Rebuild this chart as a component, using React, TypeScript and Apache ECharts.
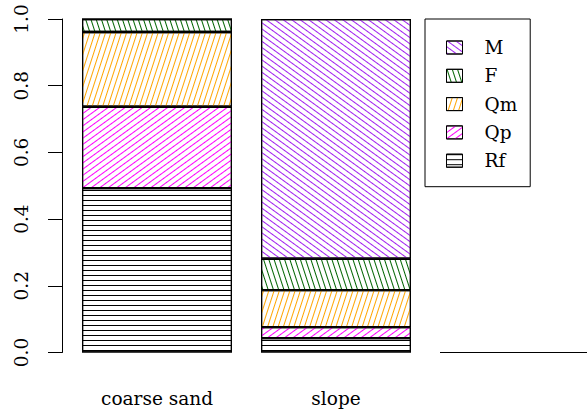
import React, { useEffect, useRef } from "react";
import * as echarts from "echarts";

const categories = ["coarse sand", "slope", ""];
const seriesNames = ["Rf", "Qp", "Qm", "F", "M"];
const Rf = [0.493, 0.043, 0];
const Qp = [0.244, 0.033, 0];
const Qm = [0.224, 0.111, 0];
const F = [0.039, 0.094, 0];
const M = [0, 0.719, 0];
const seriesValues = [Rf, Qp, Qm, F, M];
const seriesColors = ["#000000", "#FF00FF", "#FFA500", "#006400", "#A020F0"];
const hatchAngles = [0, 36, 72, 108, 144];
const legendOrder = ["M", "F", "Qm", "Qp", "Rf"];
const yTicks = [0, 0.2, 0.4, 0.6, 0.8, 1.0];

const FONT = "DejaVu Serif";
const FS = 18.5;

export default function App() {
  const ref = useRef<HTMLDivElement>(null);
  useEffect(() => {
    if (!ref.current) return;
    const chart = echarts.init(ref.current, undefined, { renderer: "svg" });
    const series = seriesNames.map((name, i) => ({
      name,
      type: "bar",
      stack: "total",
      barWidth: 150,
      data: seriesValues[i],
      itemStyle: {
        color: "#ffffff",
        borderColor: "#000000",
        borderWidth: 1.2,
        decal: {
          symbol: "rect",
          symbolSize: 1,
          symbolKeepAspect: false,
          color: seriesColors[i],
          dashArrayX: [20, 0],
          dashArrayY: [1, 4],
          rotation: (-hatchAngles[i] * Math.PI) / 180,
        },
      },
      emphasis: { disabled: true },
    }));
    chart.setOption({
      animation: false,
      backgroundColor: "#ffffff",
      textStyle: { fontFamily: FONT },
      grid: {
        left: 67.5,
        width: 537,
        top: 19,
        bottom: 62.5,
        containLabel: false,
        outerBoundsMode: "none",
      },
      xAxis: {
        type: "category",
        data: categories,
        axisLine: { show: false },
        axisTick: { show: false },
        splitLine: { show: false },
        axisLabel: {
          color: "#000",
          fontFamily: FONT,
          fontSize: FS,
          lineHeight: 22,
          margin: 35,
          interval: 0,
        },
      },
      yAxis: {
        type: "value",
        min: yTicks[0],
        max: yTicks[yTicks.length - 1],
        interval: 0.2,
        offset: 5.5,
        splitLine: { show: false },
        axisLine: { show: true, lineStyle: { color: "#000", width: 1 } },
        axisTick: { show: true, length: 14, lineStyle: { color: "#000", width: 1 } },
        axisLabel: {
          rotate: 90,
          color: "#000",
          fontFamily: FONT,
          fontSize: FS,
          lineHeight: 22,
          margin: 30,
          formatter: (v: number) => v.toFixed(1),
        },
      },
      legend: {
        data: legendOrder,
        orient: "vertical",
        left: 425,
        top: 19,
        icon: "rect",
        itemWidth: 16,
        itemHeight: 13,
        itemGap: 6.3,
        itemStyle: { borderColor: "#000", borderWidth: 1 },
        selectedMode: false,
        borderColor: "#000",
        borderWidth: 1,
        padding: [17.5, 13, 15, 21],
        textStyle: {
          color: "#000",
          fontFamily: FONT,
          fontSize: FS,
          lineHeight: 22,
          padding: [0, 0, 0, 17],
        },
      },
      series,
    });
    return () => chart.dispose();
  }, []);
  return (
    <div
      ref={ref}
      style={{ position: "fixed", left: 0, top: 0, width: 587, height: 415 }}
    />
  );
}
